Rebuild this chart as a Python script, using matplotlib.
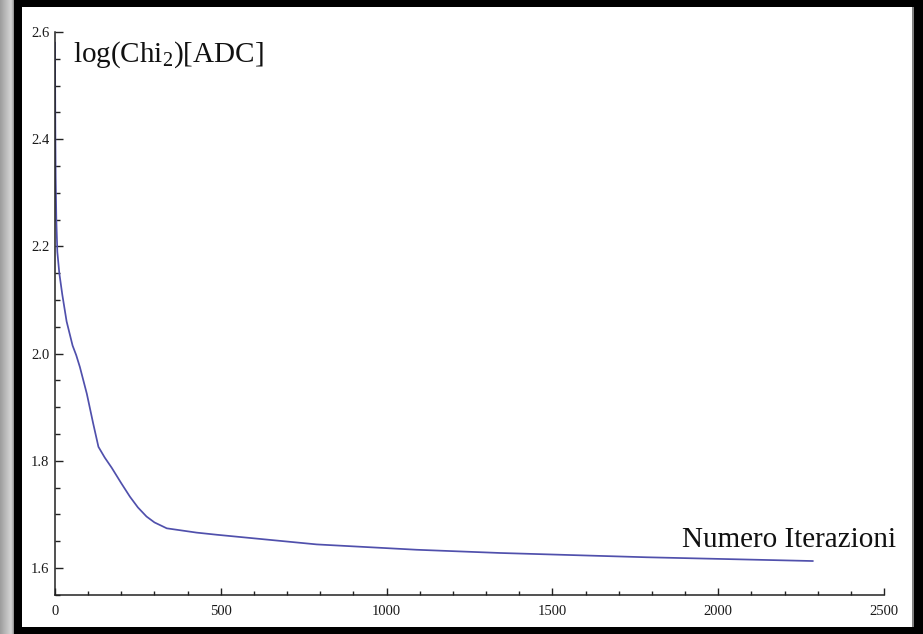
import numpy as np
import matplotlib
matplotlib.use("Agg")
import matplotlib.pyplot as plt
from matplotlib.patches import Rectangle
from matplotlib.ticker import MultipleLocator, FixedLocator, FuncFormatter

# Convergence of the fit: log(chi^2) versus iteration number
iterations = [0, 1, 2, 4, 7, 13, 22, 35, 53, 64, 75, 96, 115, 131, 150, 171,
              200, 226, 250, 276, 300, 327, 337, 427, 488, 789, 1091, 1342,
              1784, 2285]
log_chi2 = [2.58, 2.42, 2.33, 2.25, 2.19, 2.15, 2.11, 2.06, 2.015, 1.997,
            1.975, 1.925, 1.87, 1.826, 1.806, 1.787, 1.758, 1.733, 1.713,
            1.696, 1.685, 1.677, 1.674, 1.666, 1.662, 1.644, 1.634, 1.628,
            1.620, 1.613]

x_major = [0, 500, 1000, 1500, 2000, 2500]
y_major = [1.6, 1.8, 2.0, 2.2, 2.4, 2.6]

plt.rcParams["font.family"] = ["Liberation Serif", "DejaVu Serif"]
plt.rcParams["mathtext.fontset"] = "custom"
plt.rcParams["mathtext.rm"] = "Liberation Serif"

W, H = 923, 634
fig = plt.figure(figsize=(W / 100, H / 100), dpi=100, facecolor="black")

# window frame: light strip on the left, white canvas, grey edge on the right
bg = fig.add_axes([0, 0, 1, 1], zorder=0)
bg.axis("off")
grad = np.linspace(0.62, 0.88, 14)
grad[-3:] = [0.80, 0.72, 0.60]
bg.imshow(np.tile(grad, (H, 1)), cmap="gray", vmin=0, vmax=1,
          aspect="auto", extent=[0, 14, H, 0])
bg.add_patch(Rectangle((22, 7), 890, 620, facecolor="white", edgecolor="none"))
bg.add_patch(Rectangle((912, 7), 2, 620, facecolor="#808080", edgecolor="none"))
bg.set_xlim(0, W)
bg.set_ylim(H, 0)

ax = fig.add_axes([55 / W, 39 / H, 829 / W, 563 / H], zorder=2)
ax.patch.set_alpha(0)
ax.plot(iterations, log_chi2, color="#5050ac", lw=1.25)

ax.set_xlim(0, 2500)
ax.set_ylim(1.5496, 2.6)
for s in ("top", "right"):
    ax.spines[s].set_visible(False)
for s in ("left", "bottom"):
    ax.spines[s].set_color("#222222")
    ax.spines[s].set_linewidth(1.1)

ax.xaxis.set_major_locator(FixedLocator(x_major))
ax.xaxis.set_minor_locator(MultipleLocator(100))
ax.yaxis.set_major_locator(FixedLocator(y_major))
ax.yaxis.set_minor_locator(MultipleLocator(0.05))
ax.yaxis.set_major_formatter(FuncFormatter(lambda v, p: f"{v:.1f}"))

ax.tick_params(axis="both", which="both", direction="in", color="#222222",
               labelsize=10.5, width=1.0, labelcolor="#1a1a1a")
ax.tick_params(axis="x", which="major", length=5, pad=7)
ax.tick_params(axis="x", which="minor", length=3)
ax.tick_params(axis="y", which="major", length=6, pad=4)
ax.tick_params(axis="y", which="minor", length=3.5)

fig.text(73 / W, (H - 62) / H, r"log(Chi$_\mathrm{2}$)[ADC]", fontsize=21,
         ha="left", va="baseline", color="#111111", zorder=3)
fig.text(896 / W, (H - 547) / H, "Numero Iterazioni", fontsize=21,
         ha="right", va="baseline", color="#111111", zorder=3)

fig.savefig("out.png", dpi=100, facecolor="black")
